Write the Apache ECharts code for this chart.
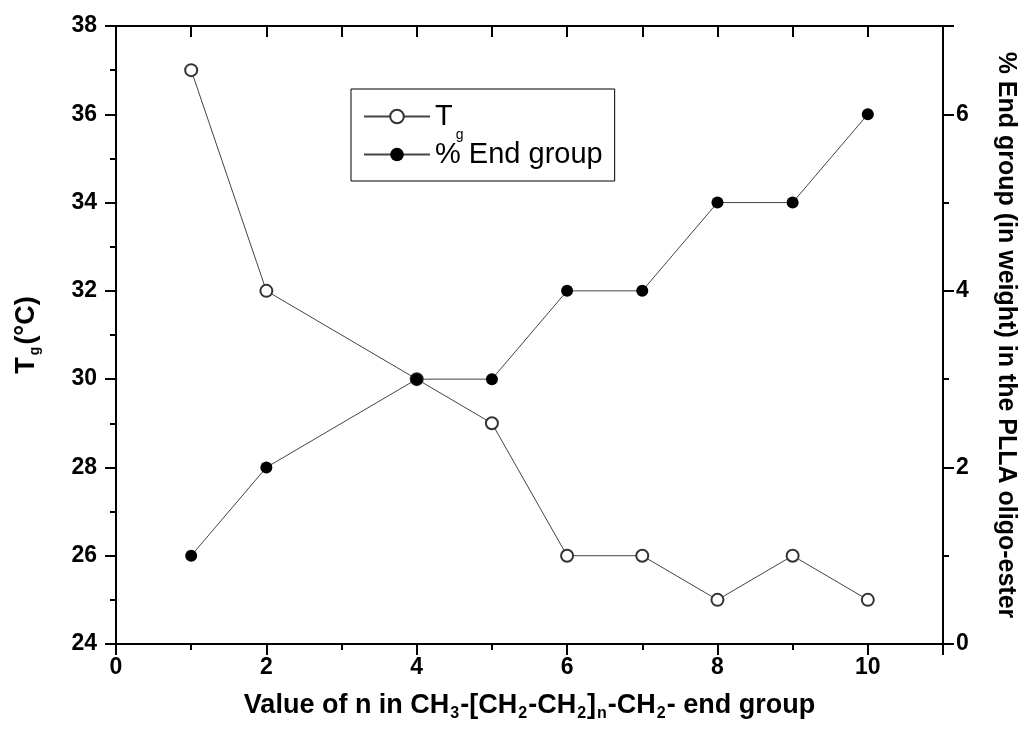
<!DOCTYPE html>
<html>
<head>
<meta charset="utf-8">
<script src="https://cdn.jsdelivr.net/npm/echarts@6/dist/echarts.min.js"></script>
<style>html,body{margin:0;padding:0;background:#fff}#c{width:1026px;height:738px}</style>
</head>
<body>
<div id="c"></div>
<script>
const nValues = [1, 2, 4, 5, 6, 7, 8, 9, 10];
const tgValues = [37, 32, 30, 29, 26, 26, 25, 26, 25];
const endGroupValues = [1, 2, 3, 3, 4, 4, 5, 5, 6];
const seriesNames = ['Tg', '% End group'];

const FONT = '"Liberation Sans", Arial, sans-serif';
const chart = echarts.init(document.getElementById('c'));

const tickLabel = { color: '#000', fontSize: 23, fontWeight: 'bold', fontFamily: FONT };
const lineStyle = { color: '#000', width: 2 };

chart.setOption({
  animation: false,
  backgroundColor: '#fff',
  grid: { left: 116, right: 79, top: 26, bottom: 94, containLabel: false },
  legend: {
    left: 351, top: 89,
    orient: 'vertical',
    padding: [13, 12, 12, 12],
    itemGap: -2,
    itemWidth: 66, itemHeight: 17,
    borderColor: '#000', borderWidth: 1,
    data: seriesNames,
    formatter: function (name) {
      return name === 'Tg' ? '{a|T}{g|g}' : '{b|' + name + '}';
    },
    textStyle: {
      color: '#000', fontSize: 29, fontFamily: FONT,
      rich: {
        a: { fontSize: 29, fontFamily: FONT, color: '#000', padding: [11, 0, 11, 0] },
        b: { fontSize: 29, fontFamily: FONT, color: '#000' },
        g: { fontSize: 14, fontFamily: FONT, color: '#000', padding: [37, 0, 0, 3] }
      }
    }
  },
  xAxis: [
    {
      type: 'value', position: 'bottom', min: 0, max: 11, interval: 2,
      name: 'Value of n in CH{s|3}-[CH{s|2}-CH{s|2}]{s|n}-CH{s|2}- end group',
      nameLocation: 'middle', nameGap: 46,
      nameTextStyle: {
        color: '#000', fontSize: 27, fontWeight: 'bold', fontFamily: FONT,
        rich: { s: { fontSize: 16, fontWeight: 'bold', fontFamily: FONT, color: '#000', padding: [16, 1, 0, 1] } }
      },
      axisLine: { show: true, onZero: false, lineStyle: lineStyle },
      axisTick: { show: true, inside: false, length: 11, lineStyle: lineStyle },
      minorTick: { show: true, splitNumber: 2, length: 6, lineStyle: lineStyle },
      axisLabel: Object.assign({ margin: 12, showMaxLabel: false }, tickLabel),
      splitLine: { show: false }
    },
    {
      type: 'value', position: 'top', min: 0, max: 11, interval: 1,
      axisLine: { show: true, onZero: false, lineStyle: lineStyle },
      axisTick: { show: true, inside: true, length: 11, lineStyle: lineStyle },
      axisLabel: { show: false },
      splitLine: { show: false }
    }
  ],
  yAxis: [
    {
      type: 'value', position: 'left', min: 24, max: 38, interval: 2,
      name: 'T{s|g}(°C)',
      nameLocation: 'middle', nameGap: 74, nameRotate: 90,
      nameTextStyle: {
        color: '#000', fontSize: 27, fontWeight: 'bold', fontFamily: FONT,
        rich: { s: { fontSize: 14, fontWeight: 'bold', fontFamily: FONT, color: '#000', padding: [16, 2, 0, 2] } }
      },
      axisLine: { show: true, onZero: false, lineStyle: lineStyle },
      axisTick: { show: true, inside: false, length: 11, lineStyle: lineStyle },
      minorTick: { show: true, splitNumber: 2, length: 6, lineStyle: lineStyle },
      axisLabel: Object.assign({ margin: 19 }, tickLabel),
      splitLine: { show: false }
    },
    {
      type: 'value', position: 'right', min: 0, max: 7, interval: 2,
      name: '% End group (in weight) in the PLLA oligo-ester',
      nameLocation: 'middle', nameGap: 50, nameRotate: -90,
      nameTextStyle: { color: '#000', fontSize: 25, fontWeight: 'bold', fontFamily: FONT },
      axisLine: { show: true, onZero: false, lineStyle: lineStyle },
      axisTick: { show: true, inside: false, length: 11, lineStyle: lineStyle },
      minorTick: { show: true, splitNumber: 2, length: 6, lineStyle: lineStyle },
      axisLabel: Object.assign({ margin: 13, showMaxLabel: false }, tickLabel),
      splitLine: { show: false }
    }
  ],
  series: [
    {
      name: seriesNames[0], type: 'line', xAxisIndex: 0, yAxisIndex: 0,
      data: nValues.map((n, i) => [n, tgValues[i]]),
      symbol: 'emptyCircle', symbolSize: 12,
      itemStyle: { color: '#333', borderColor: '#333', borderWidth: 1.2 },
      lineStyle: { color: '#444', width: 1 },
      z: 2
    },
    {
      name: seriesNames[1], type: 'line', xAxisIndex: 0, yAxisIndex: 1,
      data: nValues.map((n, i) => [n, endGroupValues[i]]),
      symbol: 'circle', symbolSize: 12,
      itemStyle: { color: '#000' },
      lineStyle: { color: '#444', width: 1 },
      z: 3
    }
  ]
});
</script>
</body>
</html>
